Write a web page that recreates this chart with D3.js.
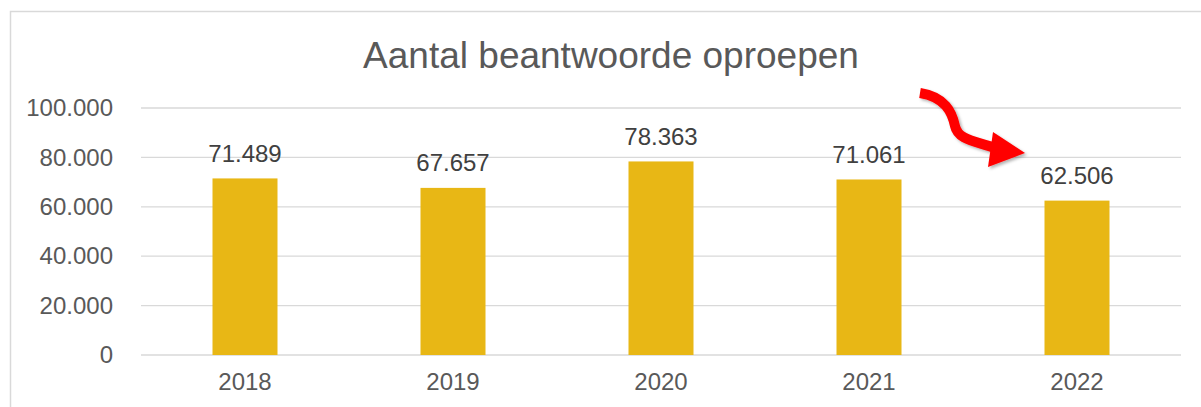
<!DOCTYPE html>
<html><head><meta charset="utf-8">
<script src="https://cdn.jsdelivr.net/npm/d3@7"></script>
<style>body{margin:0;background:#fff;}svg{display:block;font-family:"Liberation Sans",Arial,sans-serif;}</style>
</head><body>
<svg id="c" width="1201" height="407"></svg>
<script>
const categories = ["2018","2019","2020","2021","2022"];
const values = [71489, 67657, 78363, 71061, 62506];
const yTicks = [0, 20000, 40000, 60000, 80000, 100000];
const title = "Aantal beantwoorde oproepen";

const svg = d3.select("#c");

svg.append("rect").attr("x",10.5).attr("y",11.5).attr("width",1200).attr("height",400)
  .attr("fill","#fff").attr("stroke","#d9d9d9").attr("stroke-width",1.5);

const x = d3.scaleBand().domain(categories).range([141,1181]).paddingInner(0.6875).paddingOuter(0.34375);
const y = d3.scaleLinear().domain([0,100000]).range([355,108]);

const fmt = v => d3.format(",")(v).replace(/,/g,".");
const FF = "Liberation Sans, Arial, sans-serif";

// gridlines
svg.append("g").selectAll("line").data(yTicks).join("line")
  .attr("x1",141).attr("x2",1181).attr("y1",d=>y(d)).attr("y2",d=>y(d))
  .attr("stroke","#d9d9d9").attr("stroke-width",1.3);

// y axis
const ya = svg.append("g").attr("transform","translate(113,0)")
  .call(d3.axisLeft(y).tickValues(yTicks).tickFormat(fmt).tickSize(0).tickPadding(0));
ya.select(".domain").remove();
ya.selectAll("text").attr("fill","#595959").attr("font-size",24).attr("font-family",FF);

// x axis
const xa = svg.append("g").attr("transform","translate(0,373)")
  .call(d3.axisBottom(x).tickSize(0).tickPadding(0));
xa.select(".domain").remove();
xa.selectAll("text").attr("fill","#595959").attr("font-size",24).attr("dy","0.71em").attr("font-family",FF);

// bars
svg.append("g").selectAll("rect").data(values).join("rect")
  .attr("x",(d,i)=>x(categories[i])).attr("width",x.bandwidth())
  .attr("y",d=>y(d)).attr("height",d=>y(0)-y(d)).attr("fill","#E8B715");

// labels
svg.append("g").selectAll("text").data(values).join("text")
  .attr("x",(d,i)=>x(categories[i])+x.bandwidth()/2).attr("y",d=>y(d)-16.5)
  .attr("text-anchor","middle").attr("fill","#404040").attr("font-size",24).text(fmt);

// title
svg.append("text").attr("x",611).attr("y",68).attr("text-anchor","middle")
  .attr("fill","#595959").attr("font-size",37).text(title);

// arrow
const defs = svg.append("defs");
const f = defs.append("filter").attr("id","sh").attr("x","-20%").attr("y","-20%").attr("width","150%").attr("height","150%");
f.append("feDropShadow").attr("dx",2).attr("dy",2).attr("stdDeviation",1.5).attr("flood-color","#000").attr("flood-opacity",0.3);
const ag = svg.append("g").attr("filter","url(#sh)");
ag.append("path").attr("d","M920,93 C945,97 952,112 955,126 C958,140 975,141 995,148")
  .attr("fill","none").attr("stroke","#FF0000").attr("stroke-width",10);
ag.append("path").attr("d","M993,132 L1025,153 L988,167 Z").attr("fill","#FF0000");
</script>
</body></html>
